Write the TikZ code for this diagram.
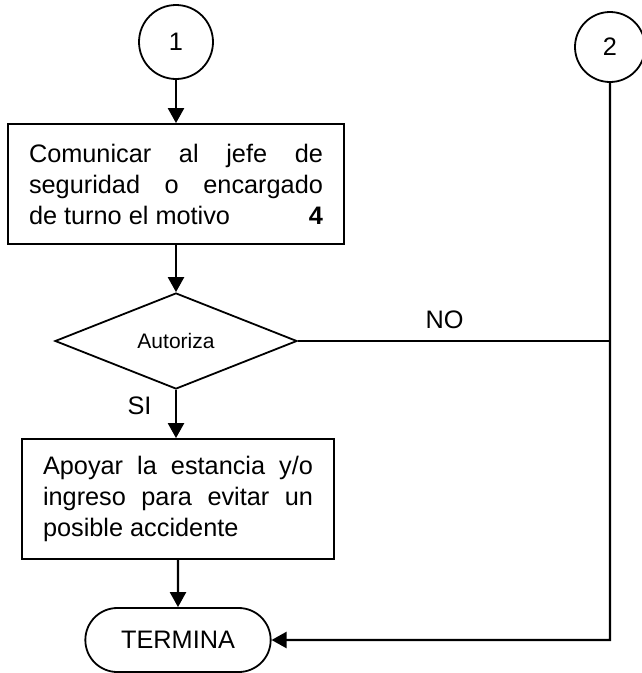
\documentclass[tikz,border=0pt]{standalone}
\usepackage{fontspec}
\setmainfont{Liberation Sans}
\usetikzlibrary{positioning}
\usetikzlibrary{shapes.geometric}
\usetikzlibrary{shapes.misc}
\usetikzlibrary{arrows.meta}

\begin{document}
\begin{tikzpicture}[x=1pt,y=-1pt,
  every node/.style={font=\fontsize{25.3}{31}\selectfont},
  conector/.style={draw,circle,line width=1.8pt,inner sep=0pt},
  proceso/.style={draw,rectangle,line width=1.8pt,align=justify,inner xsep=21pt,minimum height=120pt},
  decision/.style={draw,diamond,line width=1.8pt,minimum width=242pt,minimum height=96pt,inner sep=0pt,font=\fontsize{21}{25}\selectfont},
  terminal/.style={draw,rounded rectangle,line width=1.8pt,minimum width=192pt,minimum height=64pt},
  flecha/.style={line width=2.4pt,-{Triangle[width=16pt,length=15pt]}},
  linea/.style={line width=2.4pt}]
\useasboundingbox (0,0) rectangle (642,673);

\node[conector,minimum size=74pt] (c1) at (176,42) {1};
\node[conector,minimum size=70pt] (c2) at (610,47) {2};
\node[proceso,text width=294pt] (box1) at (176,184)
  {Comunicar al jefe de\linebreak seguridad o encargado\linebreak de turno el motivo\hfill\textbf{4}\hspace*{10pt}};
\node[decision] (dec) at (176,341) {Autoriza};
\node[proceso,text width=270pt] (box2) at (178,499)
  {Apoyar la estancia y/o\linebreak ingreso para evitar un\linebreak posible accidente};
\node[terminal] (fin) at (178,640) {TERMINA};

\path[flecha]
  (c1) edge (box1)
  (box1) edge (dec)
  (dec) edge node[left=20pt,pos=0.32] {SI} (dec.south |- box2.north)
  (box2) edge (fin);
\draw[linea] (dec) -- node[above=8pt,pos=0.47] {NO} (dec -| c2);
\draw[flecha] (c2) -- (c2 |- fin) -- (fin);
\end{tikzpicture}
\end{document}
